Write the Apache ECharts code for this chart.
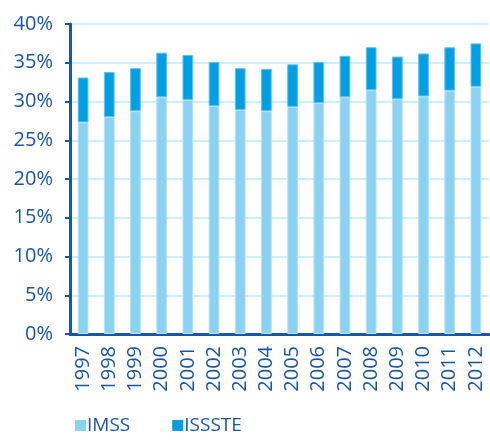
<!DOCTYPE html>
<html>
<head>
<meta charset="utf-8">
<script src="https://cdn.jsdelivr.net/npm/echarts@6/dist/echarts.min.js"></script>
<style>
  html, body { margin: 0; padding: 0; background: #fff; }
  #chart { width: 490px; height: 440px; }
</style>
</head>
<body>
<div id="chart"></div>
<script>
// años y porcentajes
const years = ['1997', '1998', '1999', '2000', '2001', '2002', '2003', '2004',
  '2005', '2006', '2007', '2008', '2009', '2010', '2011', '2012']
const imss = [27.3, 28.0, 28.75, 30.55, 30.2, 29.4, 28.9, 28.75,
  29.3, 29.8, 30.55, 31.45, 30.3, 30.65, 31.4, 31.9]
const issste = [5.8, 5.8, 5.55, 5.75, 5.8, 5.7, 5.4, 5.45,
  5.5, 5.3, 5.35, 5.55, 5.5, 5.55, 5.6, 5.6]

const axisBlue = '#1b56a4'
const font = 'Open Sans'

const chart = echarts.init(document.getElementById('chart'))

const option = {
  animation: false,
  grid: {
    left: 70,
    right: 1,
    top: 24,
    bottom: 106,
  },
  legend: {
    bottom: 0,
    left: 70,
    itemWidth: 11,
    itemHeight: 11,
    itemGap: 42,
    icon: 'rect',
    itemStyle: { borderWidth: 0 },
    textStyle: {
      color: axisBlue,
      fontSize: 19,
      fontFamily: font,
      padding: [0, 0, 0, -4],
    },
    data: ['IMSS', 'ISSSTE'],
  },
  xAxis: {
    type: 'category',
    data: years,
    axisLine: { lineStyle: { color: axisBlue, width: 3 } },
    axisTick: { length: 6, lineStyle: { color: axisBlue, width: 2 } },
    axisLabel: {
      rotate: 90,
      color: axisBlue,
      fontSize: 20,
      fontFamily: font,
      margin: 12,
    },
  },
  yAxis: {
    type: 'value',
    min: 0,
    max: 40,
    interval: 5,
    axisLine: { show: true, lineStyle: { color: axisBlue, width: 3 } },
    axisTick: { show: true, length: 5, lineStyle: { color: axisBlue, width: 2 } },
    axisLabel: {
      formatter: '{value}%',
      color: axisBlue,
      fontSize: 20,
      fontFamily: font,
      margin: 17,
    },
    splitLine: { lineStyle: { color: '#cdeefb', width: 2 } },
  },
  series: [
    {
      name: 'IMSS',
      type: 'bar',
      stack: 'total',
      data: imss,
      barWidth: '41%',
      itemStyle: { color: '#8bd1f2', borderColor: '#b5e3f7', borderWidth: 1 },
    },
    {
      name: 'ISSSTE',
      type: 'bar',
      stack: 'total',
      data: issste,
      barWidth: '41%',
      itemStyle: { color: '#009fe3', borderColor: '#5cc3ef', borderWidth: 1 },
    },
  ],
}

chart.setOption(option)
</script>
</body>
</html>
